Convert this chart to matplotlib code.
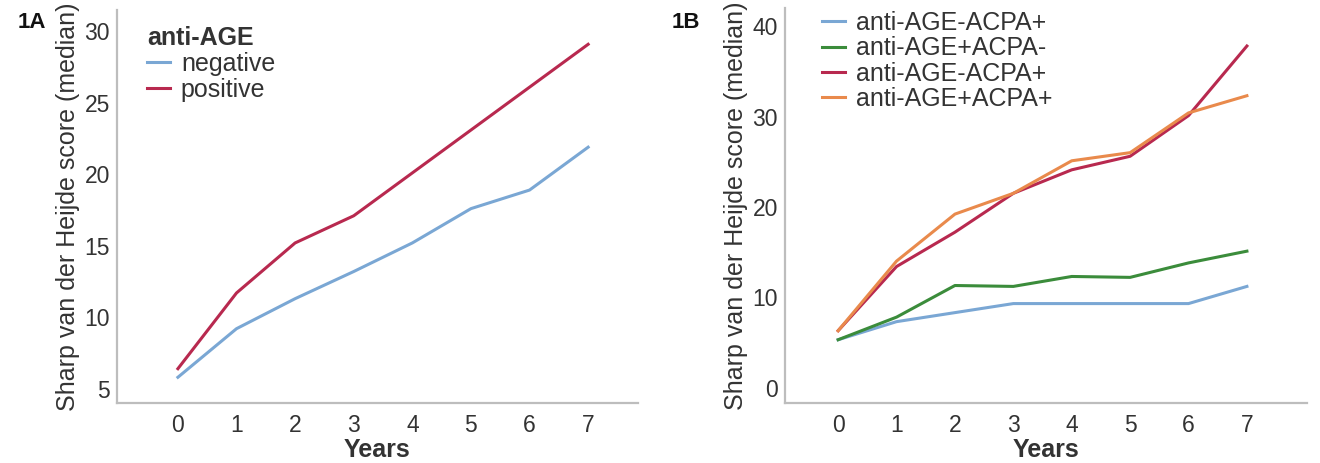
import matplotlib
matplotlib.use("Agg")
import matplotlib.pyplot as plt

plt.rcParams['font.family'] = ['Liberation Sans', 'DejaVu Sans']

# Data
years = [0, 1, 2, 3, 4, 5, 6, 7]

# Panel 1A
neg = [5.8, 9.2, 11.3, 13.2, 15.2, 17.6, 18.9, 21.9]
pos = [6.4, 11.7, 15.2, 17.1, 20.1, 23.1, 26.1, 29.1]

# Panel 1B
b_labels = ['anti-AGE-ACPA+', 'anti-AGE+ACPA-', 'anti-AGE-ACPA+', 'anti-AGE+ACPA+']
b_blue = [5.3, 7.3, 8.3, 9.3, 9.3, 9.3, 9.3, 11.2]
b_green = [5.3, 7.8, 11.3, 11.2, 12.3, 12.2, 13.8, 15.1]
b_red = [6.3, 13.4, 17.2, 21.5, 24.1, 25.6, 30.1, 37.8]
b_orange = [6.3, 14.0, 19.2, 21.5, 25.1, 26.0, 30.4, 32.3]

C_BLUE = '#7aa7d4'
C_GREEN = '#3b8c3b'
C_RED = '#b8294f'
C_ORANGE = '#e98a4c'
TXT = '#333333'
SPINE = '#bdbdbd'

YLABEL = 'Sharp van der Heijde score (median)'
FS_TICK = 16.5
FS_LAB = 18


def style_axes(ax):
    for s in ['top', 'right']:
        ax.spines[s].set_visible(False)
    for s in ['left', 'bottom']:
        ax.spines[s].set_color(SPINE)
        ax.spines[s].set_linewidth(1.6)
    ax.tick_params(length=0, labelsize=FS_TICK, labelcolor=TXT)
    ax.tick_params(axis='x', pad=8)
    ax.tick_params(axis='y', pad=5)
    ax.set_xticks(years)
    ax.set_xlabel('Years', fontsize=FS_LAB, fontweight='bold', color=TXT, labelpad=1)
    ax.set_ylabel(YLABEL, fontsize=FS_LAB, color=TXT, labelpad=3)


fig = plt.figure(figsize=(13.2, 4.63), dpi=100)

# 1A
ax1 = fig.add_axes([0.0886, 0.1296, 0.3947, 0.8488])
ax1.plot(years, neg, color=C_BLUE, lw=2.2, label='negative')
ax1.plot(years, pos, color=C_RED, lw=2.2, label='positive')
ax1.set_xlim(-1.04, 7.85)
ax1.set_ylim(4.0, 31.5)
ax1.set_yticks([5, 10, 15, 20, 25, 30])
style_axes(ax1)
leg1 = ax1.legend(title='anti-AGE', loc='upper left', bbox_to_anchor=(0.058, 0.96),
                  frameon=False, fontsize=FS_LAB, handlelength=0.9, handletextpad=0.45,
                  labelspacing=0.08, borderaxespad=0, borderpad=0)
leg1.get_title().set_fontweight('bold')
leg1.get_title().set_fontsize(FS_LAB)
leg1.get_title().set_color(TXT)
leg1._legend_box.align = 'left'
for t in leg1.get_texts():
    t.set_color(TXT)
fig.text(0.0136, 0.951, '1A', fontsize=16, fontweight='bold', color='#111111', va='center')

# 1B
ax2 = fig.add_axes([0.5947, 0.1296, 0.3955, 0.853])
for vals, col, lab in zip([b_blue, b_green, b_red, b_orange],
                          [C_BLUE, C_GREEN, C_RED, C_ORANGE], b_labels):
    ax2.plot(years, vals, color=col, lw=2.2, label=lab)
ax2.set_xlim(-0.91, 8.03)
ax2.set_ylim(-1.7, 42.0)
ax2.set_yticks([0, 10, 20, 30, 40])
style_axes(ax2)
leg2 = ax2.legend(loc='upper left', bbox_to_anchor=(0.071, 0.992), frameon=False,
                  fontsize=FS_LAB, handlelength=0.9, handletextpad=0.45,
                  labelspacing=0.05, borderaxespad=0, borderpad=0)
for t in leg2.get_texts():
    t.set_color(TXT)
fig.text(0.509, 0.951, '1B', fontsize=16, fontweight='bold', color='#111111', va='center')

fig.savefig('out.png', dpi=100)
